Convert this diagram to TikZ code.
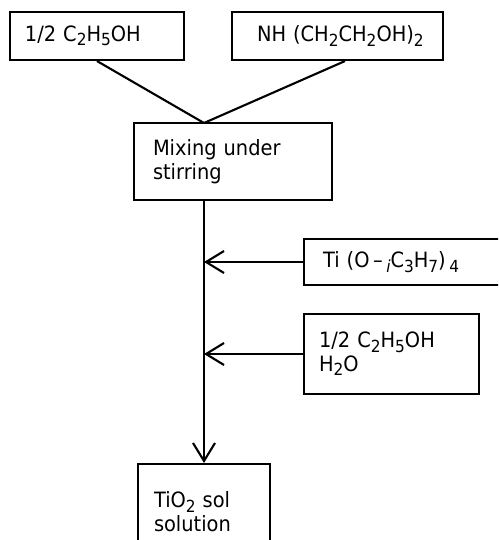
\documentclass[tikz,border=0pt]{standalone}
\usepackage{fontspec}
\setmainfont{DejaVu Sans}[FakeStretch=0.92]
\usetikzlibrary{arrows.meta}
\newcommand\chsub[1]{\raisebox{-2.6pt}{\fontsize{9.5}{10}\selectfont #1}}
\tikzset{
  chembox/.style={draw, line width=1.2pt, align=left, font=\fontsize{12}{13.5}\selectfont},
  flow/.style={line width=1.2pt},
}
\begin{document}
\begin{tikzpicture}[>={Straight Barb[length=3.6mm,width=4.4mm]}]

	\clip (0,0) rectangle (9.96,-10.8);

	\node[chembox, minimum width=3.48cm, minimum height=0.96cm, inner xsep=0.3cm, text width=2.88cm](ethanolA) at (1.94,-0.72){1/2~C\chsub{2}H\chsub{5}OH};
	\node[chembox, minimum width=4.22cm, minimum height=0.96cm, inner xsep=0.5cm, text width=3.22cm](amine) at (6.75,-0.72){NH~(CH\chsub{2}CH\chsub{2}OH)\chsub{2}};

	\node[chembox, minimum width=3.96cm, minimum height=1.54cm, inner xsep=0.38cm, text width=3.2cm](mixing) at (4.66,-3.23){Mixing under\\stirring};
	\coordinate (join) at (4.08,-2.46);

	\node[chembox, anchor=west, minimum width=4.2cm, minimum height=0.92cm, inner xsep=0.38cm, text width=3.44cm](alkoxide) at (6.06,-5.24){Ti~(O\,--\,\chsub{\textit{i}}C\chsub{3}H\chsub{7})\,\chsub{4}};
	\node[chembox, anchor=west, minimum width=3.5cm, minimum height=1.6cm, inner xsep=0.3cm, text width=2.9cm](ethanolB) at (6.06,-7.08){1/2~C\chsub{2}H\chsub{5}OH\\H\chsub{2}O};

	\node[chembox, anchor=north, minimum width=2.64cm, minimum height=1.9cm, inner xsep=0.32cm, text width=2.0cm](sol) at (4.08,-9.26){TiO\chsub{2}~sol\\solution};

	\draw [flow] (ethanolA.south) -- (join);
	\draw [flow] ([xshift=0.15cm]amine.south) -- (join);
	\draw [flow, ->] (join |- mixing.south) -- (sol.north);
	\draw [flow, ->] (alkoxide.west) -- (alkoxide.west -| join);
	\draw [flow, ->] (ethanolB.west) -- (ethanolB.west -| join);

\end{tikzpicture}
\end{document}
